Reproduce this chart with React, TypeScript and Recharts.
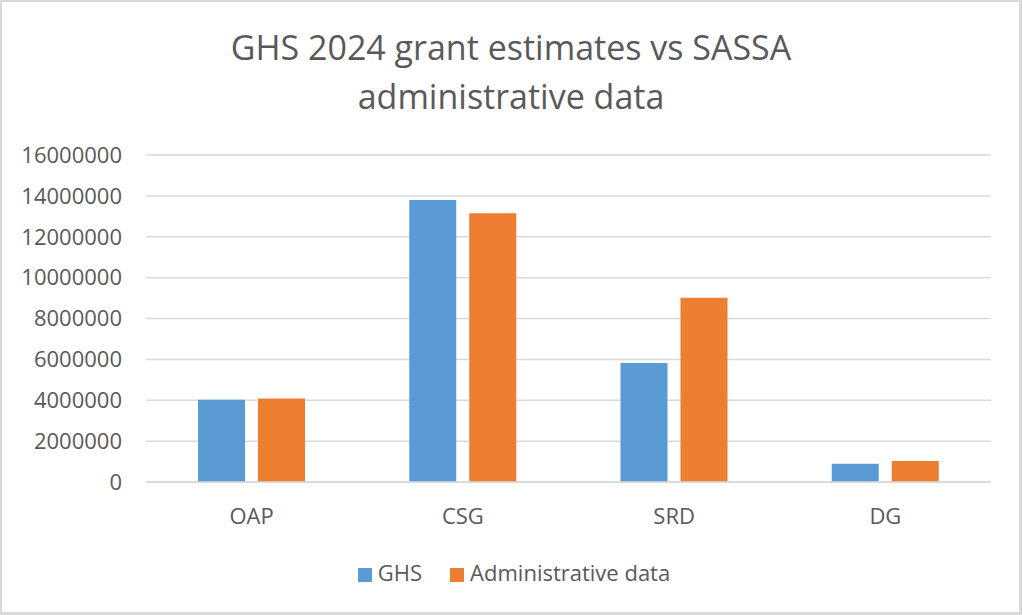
import React from "react"
import {
  BarChart,
  Bar,
  XAxis,
  YAxis,
  CartesianGrid,
  Legend,
} from "recharts"

// grant types on the x axis
const grants = ["OAP", "CSG", "SRD", "DG"]
// GHS 2024 survey estimates
const ghsValues = [4020000, 13800000, 5820000, 895000]
// SASSA administrative counts
const adminValues = [4090000, 13150000, 9010000, 1030000]
const yTicks = [0, 2000000, 4000000, 6000000, 8000000, 10000000, 12000000, 14000000, 16000000]
const seriesOrder = ["GHS", "Administrative data"]

const data = grants.map((name, i) => ({
  name,
  ghs: ghsValues[i],
  admin: adminValues[i],
}))

const font = "'Open Sans', sans-serif"
const textColor = "#595959"
const gridColor = "#d9d9d9"

const App = () => {
  const margin = { top: 155, right: 31, left: 0, bottom: 73 }
  const tickStyle = { fontSize: 22, fill: textColor, fontFamily: font }

  const legendText = (value: string) => (
    <span style={{ color: textColor, marginLeft: 2, marginRight: 18 }}>{value}</span>
  )

  return (
    <div
      style={{
        position: "absolute",
        top: 0,
        left: 0,
        width: 1022,
        height: 615,
        background: "#fff",
        fontFamily: font,
      }}
    >
      <div
        style={{
          position: "absolute",
          top: 23,
          left: 0,
          width: 1022,
          textAlign: "center",
          fontSize: 34,
          lineHeight: "49px",
          color: textColor,
        }}
      >
        GHS 2024 grant estimates vs SASSA
        <br />
        administrative data
      </div>
      <BarChart
        width={1022}
        height={615}
        data={data}
        margin={margin}
        barGap={13}
        barSize={47}
      >
        <CartesianGrid vertical={false} stroke={gridColor} strokeWidth={1.5} />
        <XAxis
          dataKey="name"
          height={60}
          axisLine={{ stroke: gridColor, strokeWidth: 1.5 }}
          tickLine={false}
          tickSize={0}
          tickMargin={26}
          tick={tickStyle}
        />
        <YAxis
          width={146}
          domain={[0, 16000000]}
          ticks={yTicks}
          axisLine={false}
          tickLine={false}
          tickSize={0}
          tickMargin={24}
          tick={tickStyle}
          interval={0}
        />
        <Legend
          verticalAlign="middle"
          align="center"
          iconType="square"
          iconSize={14}
          formatter={legendText}
          itemSorter={(item: any) => seriesOrder.indexOf(item.value)}
          wrapperStyle={{ top: 557, left: 17, width: 1022, fontSize: 22, fontFamily: font }}
        />
        <Bar dataKey="ghs" name="GHS" fill="#5b9bd5" isAnimationActive={false} />
        <Bar dataKey="admin" name="Administrative data" fill="#ed7d31" isAnimationActive={false} />
      </BarChart>
      <div
        style={{
          position: "absolute",
          top: 0,
          left: 0,
          width: 1022,
          height: 615,
          boxSizing: "border-box",
          borderStyle: "solid",
          borderColor: "#d9d9d9",
          borderWidth: "2px 3px 3px 2px",
          pointerEvents: "none",
        }}
      />
    </div>
  )
}

export default App
